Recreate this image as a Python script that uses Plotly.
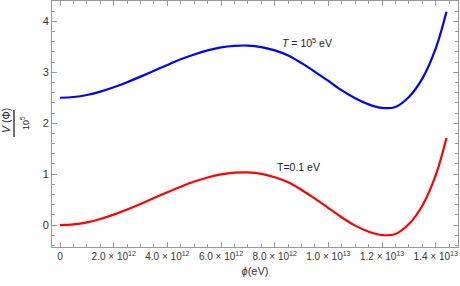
import plotly.graph_objects as go

# field values (units of 1e12 eV)
phi_e12 = [0, 0.5, 1, 1.5, 2, 2.5, 3, 3.5, 4, 4.5, 5, 5.5, 6, 6.5, 7, 7.5, 8, 8.5, 9, 9.5,
           10, 10.5, 11, 11.5, 12, 12.5, 13, 13.5, 14, 14.4]
v_low = [0, 0.015, 0.055, 0.12, 0.205, 0.305, 0.415, 0.53, 0.645, 0.755, 0.855, 0.935, 0.995, 1.03, 1.035, 1.005,
         0.94, 0.84, 0.69, 0.52, 0.335, 0.15, -0.01, -0.13, -0.195, -0.175, 0.02, 0.38, 0.98, 1.71]
v_high = [2.50, 2.515, 2.555, 2.62, 2.705, 2.805, 2.915, 3.03, 3.145, 3.255, 3.35, 3.43, 3.49, 3.52, 3.525, 3.495,
          3.43, 3.33, 3.18, 3.01, 2.83, 2.645, 2.49, 2.37, 2.30, 2.32, 2.515, 2.875, 3.47, 4.19]

xtick_vals_e12 = [0, 2, 4, 6, 8, 10, 12, 14]
xtick_text = ["0", "2.0 × 10<sup>12</sup>", "4.0 × 10<sup>12</sup>", "6.0 × 10<sup>12</sup>",
              "8.0 × 10<sup>12</sup>", "1.0 × 10<sup>13</sup>", "1.2 × 10<sup>13</sup>", "1.4 × 10<sup>13</sup>"]

phi = [p * 1e12 for p in phi_e12]
xtick_vals = [v * 1e12 for v in xtick_vals_e12]

fig = go.Figure()
fig.add_trace(go.Scatter(x=phi, y=v_high, mode="lines", line=dict(color="#0000ff", width=2.2, shape="spline", smoothing=1),
                         showlegend=False, hoverinfo="skip"))
fig.add_trace(go.Scatter(x=phi, y=v_low, mode="lines", line=dict(color="#ff0000", width=2.2, shape="spline", smoothing=1),
                         showlegend=False, hoverinfo="skip"))

W, H = 460, 286
ml, mr, mt, mb = 52, 2, 1, 39
pw, ph = W - ml - mr, H - mt - mb

def px(x):
    return (x - ml) / pw

def py(y):
    return (H - mb - y) / ph

fig.update_layout(
    width=W, height=H,
    margin=dict(l=ml, r=mr, t=mt, b=mb, pad=0, autoexpand=False),
    paper_bgcolor="white", plot_bgcolor="white",
    font=dict(family="Liberation Sans, Arial", size=10, color="#333333"),
    xaxis=dict(range=[-0.3e12, 14.83e12], tickvals=xtick_vals, ticktext=xtick_text,
               showgrid=False, zeroline=False, showline=True, linecolor="#999999", linewidth=1,
               mirror="ticks", ticks="inside", ticklen=5, tickcolor="#999999", automargin=False,
               minor=dict(dtick=0.5e12, tick0=0, ticks="inside", ticklen=3, tickcolor="#999999", showgrid=False),
               tickfont=dict(size=10, color="#333333"),
               title=dict(text="<i>ϕ</i>(eV)", font=dict(size=11, color="#333333"), standoff=6)),
    yaxis=dict(range=[-0.43, 4.40], tickvals=[0, 1, 2, 3, 4],
               showgrid=False, zeroline=False, showline=True, linecolor="#999999", linewidth=1,
               mirror="ticks", ticks="inside", ticklen=5, tickcolor="#999999", automargin=False,
               minor=dict(dtick=0.2, tick0=0, ticks="inside", ticklen=3, tickcolor="#999999", showgrid=False),
               tickfont=dict(size=11, color="#333333")),
    annotations=[
        dict(x=9.2e12, y=3.59, xref="x", yref="y", text="<i>T</i> = 10<sup>5</sup> eV", showarrow=False,
             font=dict(size=10.5, color="#222222")),
        dict(x=8.88e12, y=1.14, xref="x", yref="y", text="T=0.1 eV", showarrow=False,
             font=dict(size=10.5, color="#222222")),
        dict(x=px(6), y=py(121), xref="paper", yref="paper", text="<i>V</i> (Φ)", textangle=-90, showarrow=False,
             font=dict(size=10.5, color="#222222"), xanchor="center", yanchor="middle"),
        dict(x=px(25), y=py(123), xref="paper", yref="paper", text="10<sup>5</sup>", textangle=-90, showarrow=False,
             font=dict(size=9, color="#222222"), xanchor="center", yanchor="middle"),
    ],
    shapes=[dict(type="line", xref="paper", yref="paper", x0=px(14), x1=px(14), y0=py(110), y1=py(137),
                 line=dict(color="#222222", width=1.3))],
)

fig.write_html("out.html", config={"displayModeBar": False},
               post_script="document.body.style.margin='0px'; document.body.style.overflow='hidden';")
